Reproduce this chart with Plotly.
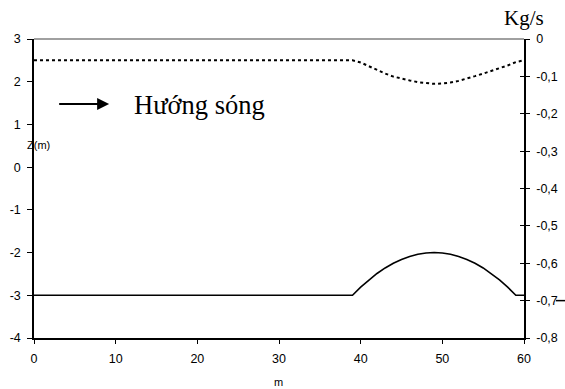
import plotly.graph_objects as go

# Data
x_vals = list(range(0, 61))
bed_z = [-3.0] * 39 + [-3.00, -2.81, -2.64, -2.49, -2.36, -2.25, -2.16, -2.09, -2.04, -2.01,
                      -2.00, -2.01, -2.04, -2.09, -2.16, -2.25, -2.36, -2.49, -2.64, -2.81,
                      -3.00, -3.00]
surface_z = [2.5] * 39 + [2.50, 2.45, 2.36, 2.27, 2.19, 2.12, 2.07, 2.03, 1.99, 1.97,
                         1.95, 1.96, 1.98, 2.02, 2.07, 2.13, 2.19, 2.25, 2.31, 2.38,
                         2.46, 2.50]
left_tickvals = [3, 2, 1, 0, -1, -2, -3, -4]
left_ticktext = ["3", "2", "1", "0", "-1", "-2", "-3", "-4"]
right_tickvals = [0, -0.1, -0.2, -0.3, -0.4, -0.5, -0.6, -0.7, -0.8]
right_ticktext = ["0", "-0,1", "-0,2", "-0,3", "-0,4", "-0,5", "-0,6", "-0,7", "-0,8"]
x_ticks = [0, 10, 20, 30, 40, 50, 60]

fig = go.Figure()
fig.add_trace(go.Scatter(x=x_vals, y=surface_z, mode="lines",
                         line=dict(color="black", width=2, dash="3px,3px"),
                         showlegend=False, hoverinfo="skip"))
fig.add_trace(go.Scatter(x=x_vals, y=bed_z, mode="lines",
                         line=dict(color="black", width=1.6),
                         showlegend=False, hoverinfo="skip"))
# dummy traces to activate right axes
fig.add_trace(go.Scatter(x=[None], y=[None], yaxis="y2", showlegend=False))
fig.add_trace(go.Scatter(x=[None], y=[None], yaxis="y3", showlegend=False))

tickfont = dict(family="Liberation Sans, Arial", size=12.5, color="black")

fig.update_layout(
    width=565, height=389,
    margin=dict(l=34, r=41, t=39, b=51),
    paper_bgcolor="white", plot_bgcolor="white",
    xaxis=dict(range=[0, 60], tickvals=x_ticks, ticks="outside", ticklen=4,
               tickcolor="black", showline=True, linecolor="black", linewidth=1.5,
               showgrid=False, zeroline=False, tickfont=tickfont, automargin=False,
               ticklabelstandoff=4),
    yaxis=dict(range=[-4, 3], tickvals=left_tickvals, ticktext=left_ticktext,
               ticks="outside", ticklen=5,
               tickcolor="black", showline=True, linecolor="black", linewidth=1.5,
               showgrid=False, zeroline=False, tickfont=tickfont, ticklabelstandoff=4,
               automargin=False),
    yaxis2=dict(range=[-0.8, 0], overlaying="y", side="right", tickvals=right_tickvals,
                ticktext=right_ticktext, ticks="outside", ticklen=4, tickcolor="black",
                showline=True, linecolor="black", linewidth=1.5, showgrid=False,
                zeroline=False, tickfont=tickfont, ticklabelstandoff=4, automargin=False),
    yaxis3=dict(range=[-0.8, 0], overlaying="y", side="right", tickvals=right_tickvals,
                ticks="inside", ticklen=4, tickcolor="black", showticklabels=False,
                showline=False, showgrid=False, zeroline=False, automargin=False),
    shapes=[
        dict(type="line", xref="paper", yref="paper", x0=0, x1=1, y0=1, y1=1,
             line=dict(color="#808080", width=1.5)),
        dict(type="line", xref="paper", yref="y2", x0=1.065, x1=1.09,
             y0=right_tickvals[7], y1=right_tickvals[7],
             line=dict(color="black", width=1.5)),
    ],
    annotations=[
        dict(x=9.2, y=1.48, ax=2.9, ay=1.48, xref="x", yref="y", axref="x", ayref="y",
             showarrow=True, arrowhead=2, arrowsize=1.2, arrowwidth=2, arrowcolor="black",
             text=""),
        dict(x=12.0, y=1.45, xref="x", yref="y", text="Hướng sóng", showarrow=False,
             xanchor="left", yanchor="middle",
             font=dict(family="Liberation Serif, Times New Roman", size=26.5, color="black")),
        dict(x=1.0, y=1.07, xref="paper", yref="paper", text="Kg/s", showarrow=False,
             xanchor="center", yanchor="middle",
             font=dict(family="Liberation Serif, Times New Roman", size=21, color="black")),
        dict(x=0.009, y=0.645, xref="paper", yref="paper", text="Z(m)", showarrow=False,
             xanchor="center", yanchor="middle",
             font=dict(family="Liberation Sans, Arial", size=11, color="black")),
        dict(x=0.498, y=-0.147, xref="paper", yref="paper", text="m", showarrow=False,
             xanchor="center", yanchor="middle",
             font=dict(family="Liberation Sans, Arial", size=11, color="black")),
    ],
)

fig.write_html("out.html", config={"displayModeBar": False},
               post_script="document.body.style.margin='0px';document.body.style.padding='0px';")
